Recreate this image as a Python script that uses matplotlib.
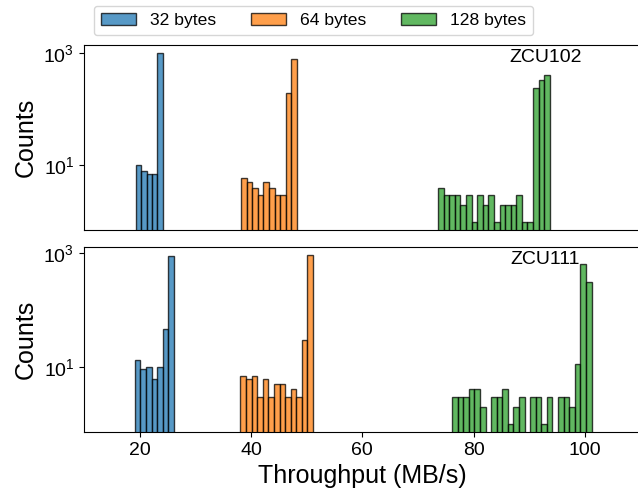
import numpy as np
import matplotlib.pyplot as plt
from matplotlib.ticker import NullLocator

plt.rcParams['font.family'] = ['Liberation Sans', 'DejaVu Sans']
plt.rcParams['mathtext.fontset'] = 'custom'
plt.rcParams['mathtext.rm'] = 'Liberation Sans'
plt.rcParams['mathtext.it'] = 'Liberation Sans:italic'
plt.rcParams['mathtext.bf'] = 'Liberation Sans:bold'

labels = ['32 bytes', '64 bytes', '128 bytes']
colors = ['tab:blue', 'tab:orange', 'tab:green']
boards = ['ZCU102', 'ZCU111']

# first bin edge (MB/s), bin width (MB/s) and counts per bin, per packet size
zcu102_start = [19.28, 38.22, 73.63]
zcu102_width = [0.98, 1.007, 1.004]
zcu102_32 = [10, 8, 7, 7, 970]
zcu102_64 = [6, 5, 4, 3, 5, 4, 3, 3, 190, 780]
zcu102_128 = [4, 3, 3, 3, 2, 3, 1, 3, 2, 3, 1, 2, 2, 2, 3, 1, 1, 240, 325, 400]

zcu111_start = [19.10, 38.10, 76.15]
zcu111_width = [1.01, 1.005, 1.002]
zcu111_32 = [13, 9, 10, 6, 10, 46, 900]
zcu111_64 = [7, 6, 7, 3, 6, 3, 5, 5, 3, 4, 3, 30, 920]
zcu111_128 = [3, 3, 3, 4, 4, 2, 0, 3, 3, 4, 1, 2, 3, 0, 3, 3, 1, 3, 0,
              3, 3, 2, 11, 640, 310]

panels = [
    (zcu102_start, zcu102_width, [zcu102_32, zcu102_64, zcu102_128]),
    (zcu111_start, zcu111_width, [zcu111_32, zcu111_64, zcu111_128]),
]

W, H = 638, 492
fig = plt.figure(figsize=(W / 100, H / 100), dpi=100)
left, right = 84 / W, 640.5 / W
ax_top = fig.add_axes([left, (H - 230) / H, right - left, 185 / H])
ax_bot = fig.add_axes([left, (H - 432) / H, right - left, 185 / H])
axes = [ax_top, ax_bot]

for ax, board, (starts, widths, series) in zip(axes, boards, panels):
    ax.set_yscale('log')
    for start, width, counts, color, label in zip(starts, widths, series, colors, labels):
        counts = np.array(counts, dtype=float)
        edges = start + width * np.arange(len(counts) + 1)
        centers = (edges[:-1] + edges[1:]) / 2
        ax.hist(centers, bins=edges, weights=counts, color=color, alpha=0.75,
                edgecolor='black', linewidth=1, label=label, log=True)

    # log autoscale-like margins
    allc = np.concatenate([np.array(s, dtype=float) for s in series])
    lo, hi = np.log10(allc[allc > 0].min()), np.log10(allc.max())
    pad = 0.05 * (hi - lo)
    ax.set_ylim(10 ** (lo - pad), 10 ** (hi + pad))
    ax.set_xlim(10, 110)
    ax.set_yticks([10, 1000])
    ax.yaxis.set_minor_locator(NullLocator())
    ax.tick_params(labelsize=14)
    ax.set_ylabel('Counts', fontsize=18)
    ax.text(0.829, 0.932, board, transform=ax.transAxes, fontsize=14,
            ha='center', va='center')

ax_top.tick_params(axis='x', bottom=False, labelbottom=False)
ax_bot.set_xticks([20, 40, 60, 80, 100])
ax_bot.set_xlabel('Throughput (MB/s)', fontsize=18)

handles, lbls = ax_top.get_legend_handles_labels()
fig.legend(handles, lbls, loc='center', ncol=3, fontsize=12.6,
           bbox_to_anchor=(313.5 / W, 1 - 20.5 / H))

fig.savefig('out.png', dpi=100)
